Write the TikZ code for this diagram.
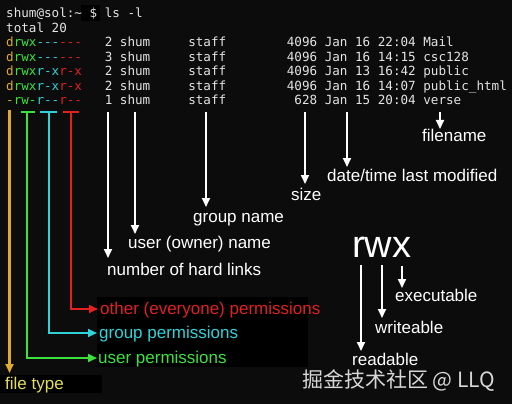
\documentclass[tikz,border=0pt]{standalone}
\usepackage{fontspec}
\setmainfont{Liberation Sans}
\setmonofont{DejaVu Sans Mono}
\newfontfamily\cjkfont{Noto Sans CJK SC}
\usetikzlibrary{arrows.meta}
\definecolor{bg}{RGB}{12,12,12}
\definecolor{termgray}{RGB}{228,228,228}
\definecolor{ftyellow}{RGB}{222,170,48}
\definecolor{ftlabel}{RGB}{228,222,90}
\definecolor{ugreen}{RGB}{60,226,60}
\definecolor{gcyan}{RGB}{48,210,218}
\definecolor{ored}{RGB}{226,32,32}
\definecolor{wmark}{RGB}{215,215,215}
\begin{document}
\begin{tikzpicture}[x=1pt,y=-1pt,
  term/.style={anchor=base west,inner sep=0pt,text=termgray,font=\ttfamily\fontsize{12.6}{14}\selectfont},
  lbl/.style={anchor=base west,inner sep=0pt,text=white,font=\fontsize{17}{20}\selectfont},
  warrow/.style={draw=white,line width=1.8pt,-{Triangle[width=8pt,length=9pt]}},
  carrow/.style={line width=2.2pt,-{Triangle[width=8pt,length=9pt]}},
  tbar/.style={line width=2.2pt}
]
% background and label boxes
\fill[bg] (0,0) rectangle (512,404);
\useasboundingbox (0,0) rectangle (512,404);
\fill[black] (81,5) rectangle (100,21);
\fill[black] (97,297) rectangle (308,367);
\fill[black] (0,375) rectangle (102,393);

% terminal text
\node[term] (L1) at (6,18) {shum@sol:\textasciitilde~\$~ls~-l};
\node[term] (L2) at (6,32.5) {total~20};
\node[term] (L3) at (6,47) {\textcolor{ftyellow}{d}\textcolor{ugreen}{rwx}\textcolor{gcyan}{---}\textcolor{ored}{---}~~~2~shum~~~~~staff~~~~~~~~4096~Jan~16~22:04~Mail};
\node[term] (L4) at (6,61.5) {\textcolor{ftyellow}{d}\textcolor{ugreen}{rwx}\textcolor{gcyan}{---}\textcolor{ored}{---}~~~3~shum~~~~~staff~~~~~~~~4096~Jan~16~14:15~csc128};
\node[term] (L5) at (6,76) {\textcolor{ftyellow}{d}\textcolor{ugreen}{rwx}\textcolor{gcyan}{r-x}\textcolor{ored}{r-x}~~~2~shum~~~~~staff~~~~~~~~4096~Jan~13~16:42~public};
\node[term] (L6) at (6,90.5) {\textcolor{ftyellow}{d}\textcolor{ugreen}{rwx}\textcolor{gcyan}{r-x}\textcolor{ored}{r-x}~~~2~shum~~~~~staff~~~~~~~~4096~Jan~16~14:07~public\_html};
\node[term] (L7) at (6,105) {\textcolor{ftyellow}{-}\textcolor{ugreen}{rw-}\textcolor{gcyan}{r--}\textcolor{ored}{r--}~~~1~shum~~~~~staff~~~~~~~~~628~Jan~15~20:04~verse};

% white labels
\node[lbl] (filename) at (422,142) {filename};
\node[lbl] (datetime) at (327,182) {date/time last modified};
\node[lbl] (size) at (291,200) {size};
\node[lbl] (groupname) at (193,222) {group name};
\node[lbl] (username) at (128,248) {user (owner) name};
\node[lbl] (links) at (107,275) {number of hard links};

% coloured labels
\node[lbl,text=ored] (other) at (100,314) {other (everyone) permissions};
\node[lbl,text=gcyan] (grpperm) at (99,338) {group permissions};
\node[lbl,text=ugreen] (userperm) at (98,363) {user permissions};
\node[lbl,text=ftlabel] (ftype) at (5,389) {file type};

% rwx legend
\node[anchor=base west,inner sep=0pt,text=white,font=\fontsize{38}{40}\selectfont] (rwx) at (352,257) {rwx};
\node[lbl] (exec) at (395,301) {executable};
\node[lbl] (write) at (375,333) {writeable};
\node[lbl] (read) at (352,365) {readable};

% watermark
\node[anchor=base west,inner sep=0pt,text=wmark,font=\cjkfont\fontsize{21}{24}\selectfont] (wm) at (302,387) {掘金技术社区 @ LLQ};

% coordinates for white arrows
\coordinate (aLinksT) at (108,112); \coordinate (aLinksE) at (108,258);
\coordinate (aUserT) at (135,112);  \coordinate (aUserE) at (135,234);
\coordinate (aGrpT) at (206,112);   \coordinate (aGrpE) at (206,207);
\coordinate (aSizeT) at (305,112);  \coordinate (aSizeE) at (305,184);
\coordinate (aDateT) at (347,112);  \coordinate (aDateE) at (347,167);
\coordinate (aFileT) at (440,112);  \coordinate (aFileE) at (440,129);
\draw[warrow] (aLinksT) -- (aLinksE);
\draw[warrow] (aUserT) -- (aUserE);
\draw[warrow] (aGrpT) -- (aGrpE);
\draw[warrow] (aSizeT) -- (aSizeE);
\draw[warrow] (aDateT) -- (aDateE);
\draw[warrow] (aFileT) -- (aFileE);

% rwx arrows
\coordinate (rT) at (361,265); \coordinate (rE) at (361,351);
\coordinate (wT) at (382,265); \coordinate (wE) at (382,318);
\coordinate (xT) at (402,266); \coordinate (xE) at (402,288);
\draw[warrow] (rT) -- (rE);
\draw[warrow] (wT) -- (wE);
\draw[warrow] (xT) -- (xE);

% coloured connectors
\coordinate (yT) at (9.5,110); \coordinate (yE) at (9.5,373);
\draw[carrow,ftyellow] (yT) -- (yE);

\coordinate (gT) at (27,112); \coordinate (gE) at (97,358);
\draw[tbar,ugreen] (21,112) -- (35,112);
\draw[carrow,ugreen] (gT) |- (gE);

\coordinate (cT) at (49,112); \coordinate (cE) at (97,333);
\draw[tbar,gcyan] (40,112) -- (57,112);
\draw[carrow,gcyan] (cT) |- (cE);

\coordinate (oT) at (71,112); \coordinate (oE) at (98,309);
\draw[tbar,ored] (63,112) -- (79,112);
\draw[carrow,ored] (oT) |- (oE);
\end{tikzpicture}
\end{document}
